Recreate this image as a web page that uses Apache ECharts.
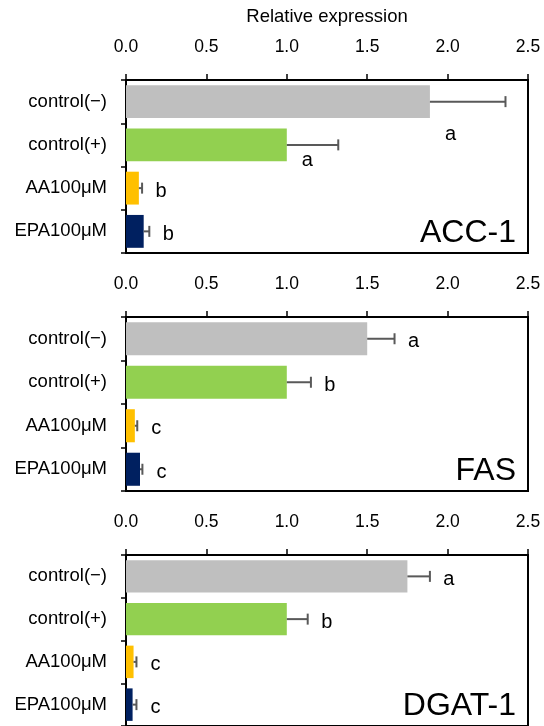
<!DOCTYPE html>
<html>
<head>
<meta charset="utf-8">
<script src="https://cdn.jsdelivr.net/npm/echarts@6/dist/echarts.min.js"></script>
<style>
html,body{margin:0;padding:0;background:#fff;}
#chart{width:544px;height:726px;}
</style>
</head>
<body>
<div id="chart"></div>
<script>
// ---- data ----
var categories = ['control(−)', 'control(+)', 'AA100μM', 'EPA100μM'];
var genes = ['ACC-1', 'FAS', 'DGAT-1'];
var acc1Mean = [1.89, 1.00, 0.08, 0.11];
var acc1Err  = [0.47, 0.32, 0.02, 0.035];
var fasMean  = [1.50, 1.00, 0.055, 0.087];
var fasErr   = [0.17, 0.15, 0.015, 0.015];
var dgatMean = [1.75, 1.00, 0.047, 0.041];
var dgatErr  = [0.14, 0.13, 0.018, 0.024];
var acc1Letters = ['a', 'a', 'b', 'b'];
var fasLetters  = ['a', 'b', 'c', 'c'];
var dgatLetters = ['a', 'b', 'c', 'c'];
var xTickValues = [0, 0.5, 1.0, 1.5, 2.0, 2.5];
var axisTitle = 'Relative expression';

// ---- styles / layout ----
var barColors = ['#BFBFBF', '#92D050', '#FFC000', '#002060'];
var FONT = '"Liberation Sans", Arial, sans-serif';
var panels = [
  {mean: acc1Mean, err: acc1Err, letters: acc1Letters, gene: genes[0], top: 80, height: 173},
  {mean: fasMean, err: fasErr, letters: fasLetters, gene: genes[1], top: 317, height: 174},
  {mean: dgatMean, err: dgatErr, letters: dgatLetters, gene: genes[2], top: 555, height: 174}
];
// letter offsets relative to error bar end (px)
var defaultOffset = [19, 3];
var specialOffset = {'0-0': [-55, 33], '0-1': [-31, 16]};

var grids = [], xAxes = [], yAxes = [], series = [];
panels.forEach(function (p, gi) {
  grids.push({left: 126, width: 402, top: p.top, height: p.height, show: true,
    borderColor: '#000', borderWidth: 2, backgroundColor: 'transparent', containLabel: false});
  xAxes.push({
    type: 'value', gridIndex: gi, position: 'top',
    min: xTickValues[0], max: xTickValues[xTickValues.length - 1],
    interval: xTickValues[1] - xTickValues[0],
    name: gi === 0 ? axisTitle : '', nameLocation: 'middle', nameGap: 54,
    nameTextStyle: {fontFamily: FONT, fontSize: 18.5, color: '#000'},
    axisLine: {show: true, lineStyle: {color: '#000', width: 2}},
    axisTick: {show: true, inside: false, length: 6, lineStyle: {color: '#000', width: 1.5}},
    axisLabel: {margin: 24, fontFamily: FONT, fontSize: 17.5, color: '#000',
      formatter: function (v) { return v.toFixed(1); }},
    splitLine: {show: false}
  });
  yAxes.push({
    type: 'category', gridIndex: gi, inverse: true, data: categories,
    axisLine: {show: true, lineStyle: {color: '#000', width: 2}},
    axisTick: {show: true, inside: false, length: 5, lineStyle: {color: '#000', width: 1.5}},
    axisLabel: {margin: 19, fontFamily: FONT, fontSize: 18.5, color: '#000'},
    splitLine: {show: false}
  });
  series.push({
    type: 'bar', xAxisIndex: gi, yAxisIndex: gi, barCategoryGap: '24%',
    data: p.mean.map(function (v, i) { return {value: v, itemStyle: {color: barColors[i]}}; }),
    silent: true, z: 2
  });
  series.push({
    type: 'custom', xAxisIndex: gi, yAxisIndex: gi, z: 3, silent: true,
    data: p.mean.map(function (v, i) { return [v, i, p.err[i], i]; }),
    encode: {x: 0, y: 1},
    renderItem: function (params, api) {
      var m = api.value(0), c = api.value(1), e = api.value(2), idx = api.value(3);
      var p0 = api.coord([m, c]);
      var p1 = api.coord([m + e, c]);
      var off = specialOffset[gi + '-' + idx] || defaultOffset;
      var ls = {stroke: '#595959', lineWidth: 2};
      return {type: 'group', children: [
        {type: 'line', shape: {x1: p0[0], y1: p0[1], x2: p1[0], y2: p1[1]}, style: ls},
        {type: 'line', shape: {x1: p1[0], y1: p1[1] - 5.5, x2: p1[0], y2: p1[1] + 5.5}, style: ls},
        {type: 'text', x: p1[0] + off[0], y: p1[1] + off[1],
          style: {text: p.letters[idx], fill: '#000', font: '20px ' + FONT,
            textAlign: 'center', textVerticalAlign: 'middle'}}
      ]};
    }
  });
});

var chart = echarts.init(document.getElementById('chart'), null, {renderer: 'canvas'});
chart.setOption({
  animation: false,
  backgroundColor: '#fff',
  grid: grids, xAxis: xAxes, yAxis: yAxes, series: series
});
// gene labels anchored at the lower-right of each panel
var gEls = panels.map(function (p, gi) {
  var pt = chart.convertToPixel({xAxisIndex: gi, yAxisIndex: gi}, [2.5, 3]);
  return {type: 'text', x: pt[0] - 12, y: pt[1] + 2,
    style: {text: p.gene, fill: '#000', font: '32px ' + FONT, textAlign: 'right', textVerticalAlign: 'middle'}};
});
chart.setOption({graphic: gEls});
</script>
</body>
</html>
